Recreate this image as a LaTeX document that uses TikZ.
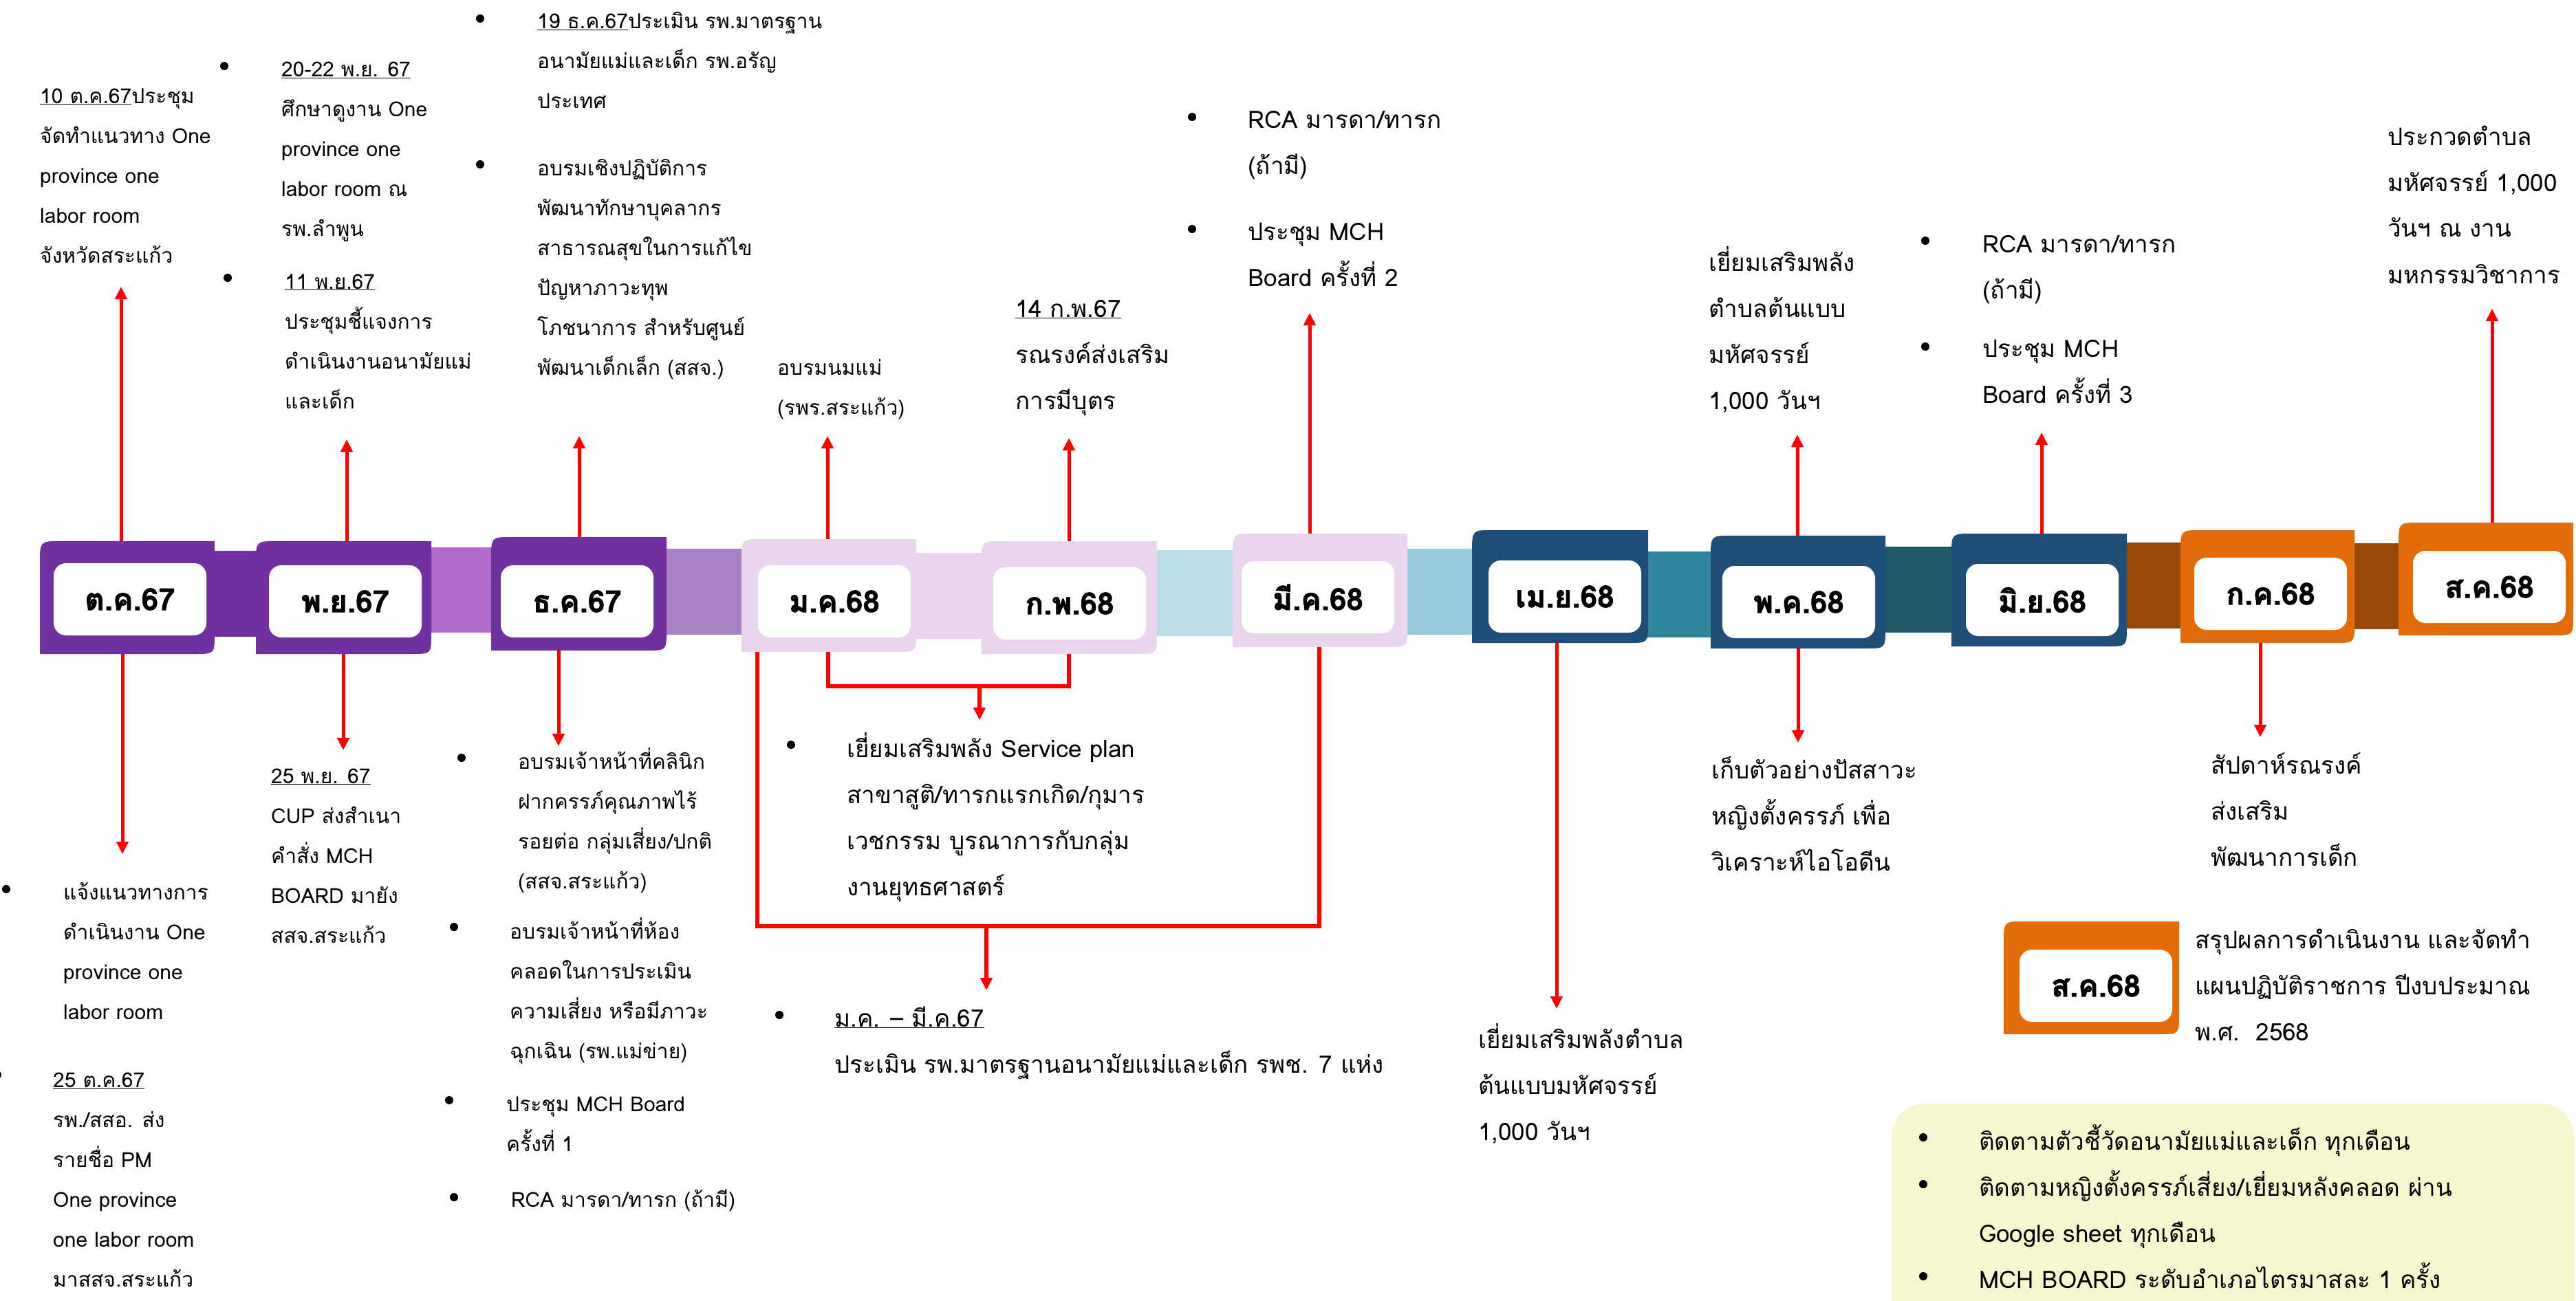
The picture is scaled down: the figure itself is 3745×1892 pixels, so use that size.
\documentclass[tikz,border=0pt]{standalone}
\usepackage{fontspec}
\setmainfont{Loma}[Script=Thai]
\newfontfamily\MonthFam{Loma}[Script=Thai, BoldFeatures={FakeBold=2}]
\usetikzlibrary{arrows.meta}
\definecolor{cPurple}{HTML}{7030A0}
\definecolor{cPink}{HTML}{EAD5EE}
\definecolor{cNavy}{HTML}{1F4E79}
\definecolor{cOrange}{HTML}{E36C0A}
\definecolor{bandA}{HTML}{7030A0}
\definecolor{bandB}{HTML}{B06CCC}
\definecolor{bandC}{HTML}{A882C3}
\definecolor{bandD}{HTML}{EAD5EE}
\definecolor{bandE}{HTML}{B9DEE8}
\definecolor{bandF}{HTML}{96CCDC}
\definecolor{bandG}{HTML}{31859C}
\definecolor{bandH}{HTML}{215968}
\definecolor{bandI}{HTML}{984807}
\definecolor{noteYellow}{HTML}{F7F7CF}
\newcommand{\SzS}{\fontsize{30}{58}\selectfont}
\newcommand{\SzL}{\fontsize{35}{67}\selectfont}
\newcommand{\MonthFont}{\MonthFam\fontsize{44}{52}\selectfont\bfseries}
\tikzset{
  arr/.style={draw=red, line width=5pt, -{Triangle[length=18pt,width=17pt]}},
  brk/.style={draw=red, line width=6.5pt, line join=miter},
  mframe/.style={inner sep=0pt, draw=none},
  monthlabel/.style={fill=white, rounded corners=18pt, minimum width=222pt, minimum height=105pt, inner sep=0pt, font=\MonthFont},
  txtS/.style={anchor=base west, inner sep=0pt, font=\SzS, text=black},
  txtL/.style={anchor=base west, inner sep=0pt, font=\SzL, text=black}
}
% #1 name, #2 x1, #3 y1, #4 x2, #5 y2, #6 colour, #7 inner x1, #8 inner y1, #9 label
\newcommand{\MonthBox}[9]{%
  \fill[#6] (#2,#5) -- (#2,#3+32) .. controls (#2,#3) .. (#2+30,#3) -- (#4,#3) -- (#4,#5-30) .. controls (#4,#5) .. (#4-28,#5) -- cycle;
  \node[mframe, minimum width={#4-#2}, minimum height={#5-#3}] (#1) at ({(#2+#4)/2},{(#3+#5)/2}) {};
  \node[monthlabel] (#1-in) at ({#7+111},{#8+52.5}) {#9};
}
\newcommand{\TBlock}[5]{\node[#1] (#2) at (#3,#4) {\begin{tabular}[t]{@{}l@{}}#5\end{tabular}};}
\newcommand{\Bul}[2]{\fill[black] (#1,#2) circle[radius=6pt];}
\begin{document}
\begin{tikzpicture}[x=1pt,y=-1pt]
\useasboundingbox (0,0) rectangle (3745,1892);
\clip (0,0) rectangle (3745,1892);
\fill[white] (0,0) rectangle (3745,1892);

% timeline bands
\fill[bandA] (300,801) rectangle (385,926);
\fill[bandB] (620,796) rectangle (720,920);
\fill[bandC] (960,798) rectangle (1085,923);
\fill[bandD] (1320,804) rectangle (1435,929);
\fill[bandE] (1675,800) rectangle (1800,925);
\fill[bandF] (2040,798) rectangle (2145,923);
\fill[bandG] (2390,802) rectangle (2495,927);
\fill[bandH] (2735,795) rectangle (2845,920);
\fill[bandI] (3085,789) rectangle (3175,914);
\fill[bandI] (3415,790) rectangle (3495,915);

% month boxes
\MonthBox{oct}{58}{787}{312}{951}{cPurple}{78}{819}{ต.ค.67}
\MonthBox{nov}{372}{787}{627}{951}{cPurple}{391}{822}{พ.ย.67}
\MonthBox{dec}{714}{781}{969}{946}{cPurple}{728}{822}{ธ.ค.67}
\MonthBox{jan}{1078}{784}{1332}{948}{cPink}{1102}{822}{ม.ค.68}
\MonthBox{feb}{1427}{787}{1682}{951}{cPink}{1444}{825}{ก.พ.68}
\MonthBox{mar}{1792}{776}{2046}{941}{cPink}{1805}{816}{มี.ค.68}
\MonthBox{apr}{2140}{771}{2396}{935}{cNavy}{2164}{815}{เม.ย.68}
\MonthBox{may}{2487}{779}{2741}{943}{cNavy}{2504}{823}{พ.ค.68}
\MonthBox{jun}{2837}{776}{3092}{940}{cNavy}{2858}{820}{มิ.ย.68}
\MonthBox{jul}{3170}{771}{3423}{935}{cOrange}{3190}{811}{ก.ค.68}
\MonthBox{aug}{3487}{760}{3741}{924}{cOrange}{3508}{801}{ส.ค.68}
\MonthBox{augs}{2913}{1340}{3168}{1504}{cOrange}{2936}{1381}{ส.ค.68}

% yellow note box
\fill[noteYellow, rounded corners=48pt] (2750,1605) rectangle (3742,1980);

% arrow tip coordinates
\coordinate (tOctU) at (176,417);
\coordinate (tNovU) at (504,639);
\coordinate (tDecU) at (842,634);
\coordinate (tJanU) at (1203,634);
\coordinate (tFebU) at (1554,637);
\coordinate (tMarU) at (1904,455);
\coordinate (tMayU) at (2613,632);
\coordinate (tJunU) at (2968,629);
\coordinate (tAugU) at (3623,449);
\coordinate (tOctD) at (178,1242);
\coordinate (tNovD) at (499,1091);
\coordinate (tDecD) at (812,1085);
\coordinate (tAprD) at (2263,1467);
\coordinate (tMayD) at (2614,1080);
\coordinate (tJulD) at (3286,1072);

\draw[arr] (oct.north -| tOctU) -- (tOctU);
\draw[arr] (nov.north -| tNovU) -- (tNovU);
\draw[arr] (dec.north -| tDecU) -- (tDecU);
\draw[arr] (jan.north -| tJanU) -- (tJanU);
\draw[arr] (feb.north -| tFebU) -- (tFebU);
\draw[arr] (mar.north -| tMarU) -- (tMarU);
\draw[arr] (may.north -| tMayU) -- (tMayU);
\draw[arr] (jun.north -| tJunU) -- (tJunU);
\draw[arr] (aug.north -| tAugU) -- (tAugU);
\draw[arr] (oct.south -| tOctD) -- (tOctD);
\draw[arr] (nov.south -| tNovD) -- (tNovD);
\draw[arr] (dec.south -| tDecD) -- (tDecD);
\draw[arr] (apr.south -| tAprD) -- (tAprD);
\draw[arr] (may.south -| tMayD) -- (tMayD);
\draw[arr] (jul.south -| tJulD) -- (tJulD);

% brackets
\coordinate (cJanI) at (1204,998);
\coordinate (cFebI) at (1554,998);
\coordinate (cMidI) at (1424,998);
\coordinate (tMidI) at (1424,1047);
\draw[brk] (jan.south -| cJanI) -- (cJanI) -- (cFebI) -- (feb.south -| cFebI);
\draw[arr, line width=6pt] (cMidI) -- (tMidI);
\coordinate (cJanO) at (1101,1347);
\coordinate (cMarO) at (1918,1347);
\coordinate (cMidO) at (1434,1347);
\coordinate (tMidO) at (1434,1440);
\draw[brk] (jan.south -| cJanO) -- (cJanO) -- (cMarO) -- (mar.south -| cMarO);
\draw[arr, line width=6.5pt] (cMidO) -- (tMidO);

% bullets
\Bul{326}{96}\Bul{331}{404}\Bul{698}{27}\Bul{698}{239}
\Bul{9}{1293}\Bul{-4}{1563}\Bul{671}{1102}\Bul{660}{1348}\Bul{653}{1600}\Bul{660}{1741}
\Bul{1733}{170}\Bul{1733}{333}\Bul{2799}{350}\Bul{2799}{504}
\Bul{1150}{1083}\Bul{1133}{1476}
\Bul{2796}{1654}\Bul{2796}{1722}\Bul{2796}{1856}

% texts, small
\TBlock{txtS}{a1}{58}{150}{\underline{10 ต.ค.67}ประชุม\\จัดทำแนวทาง One\\province one\\labor room\\จังหวัดสระแก้ว}
\TBlock{txtS}{a2}{409}{112}{\underline{20-22 พ.ย. 67}\\ศึกษาดูงาน One\\province one\\labor room ณ\\รพ.ลำพูน}
\TBlock{txtS}{a3}{414}{420}{\underline{11 พ.ย.67}\\ประชุมชี้แจงการ\\ดำเนินงานอนามัยแม่\\และเด็ก}
\TBlock{txtS}{a4}{781}{42}{\underline{19 ธ.ค.67}ประเมิน รพ.มาตรฐาน\\อนามัยแม่และเด็ก รพ.อรัญ\\ประเทศ}
\TBlock{txtS}{a5}{781}{255}{อบรมเชิงปฏิบัติการ\\พัฒนาทักษาบุคลากร\\สาธารณสุขในการแก้ไข\\ปัญหาภาวะทุพ\\โภชนาการ สำหรับศูนย์\\พัฒนาเด็กเล็ก (สสจ.)}
\TBlock{txtS}{a6}{1130}{545}{อบรมนมแม่\\(รพร.สระแก้ว)}
\TBlock{txtS}{b1}{92}{1308}{แจ้งแนวทางการ\\ดำเนินงาน One\\province one\\labor room}
\TBlock{txtS}{b2}{77}{1581}{\underline{25 ต.ค.67}\\รพ./สสอ. ส่ง\\รายชื่อ PM\\One province\\one labor room\\มาสสจ.สระแก้ว}
\TBlock{txtS}{b3}{394}{1139}{\underline{25 พ.ย. 67}\\CUP ส่งสำเนา\\คำสั่ง MCH\\BOARD มายัง\\สสจ.สระแก้ว}
\TBlock{txtS}{b4}{753}{1118}{อบรมเจ้าหน้าที่คลินิก\\ฝากครรภ์คุณภาพไร้\\รอยต่อ กลุ่มเสี่ยง/ปกติ\\(สสจ.สระแก้ว)}
\TBlock{txtS}{b5}{741}{1365}{อบรมเจ้าหน้าที่ห้อง\\คลอดในการประเมิน\\ความเสี่ยง หรือมีภาวะ\\ฉุกเฉิน (รพ.แม่ข่าย)}
\TBlock{txtS}{b6}{736}{1616}{ประชุม MCH Board\\ครั้งที่ 1}
\TBlock{txtS}{b7}{743}{1755}{RCA มารดา/ทารก (ถ้ามี)}

% texts, large
\TBlock{txtL}{c1}{1476}{461}{\underline{14 ก.พ.67}\\รณรงค์ส่งเสริม\\การมีบุตร}
\TBlock{txtL}{c2}{1814}{186}{RCA มารดา/ทารก\\(ถ้ามี)}
\TBlock{txtL}{c3}{1814}{349}{ประชุม MCH\\Board ครั้งที่ 2}
\TBlock{txtL}{c4}{2484}{394}{เยี่ยมเสริมพลัง\\ตำบลต้นแบบ\\มหัศจรรย์\\1,000 วันฯ}
\TBlock{txtL}{c5}{2882}{367}{RCA มารดา/ทารก\\(ถ้ามี)}
\TBlock{txtL}{c6}{2882}{519}{ประชุม MCH\\Board ครั้งที่ 3}
\TBlock{txtL}{c7}{3471}{211}{ประกวดตำบล\\มหัศจรรย์ 1,000\\วันฯ ณ งาน\\มหกรรมวิชาการ}
\TBlock{txtL}{d1}{1231}{1101}{เยี่ยมเสริมพลัง Service plan\\สาขาสูติ/ทารกแรกเกิด/กุมาร\\เวชกรรม บูรณาการกับกลุ่ม\\งานยุทธศาสตร์}
\TBlock{txtL}{d2}{1213}{1493}{\underline{ม.ค. – มี.ค.67}\\ประเมิน รพ.มาตรฐานอนามัยแม่และเด็ก รพช. 7 แห่ง}
\TBlock{txtL}{d3}{2149}{1524}{เยี่ยมเสริมพลังตำบล\\ต้นแบบมหัศจรรย์\\1,000 วันฯ}
\TBlock{txtL}{d4}{2488}{1132}{เก็บตัวอย่างปัสสาวะ\\หญิงตั้งครรภ์ เพื่อ\\วิเคราะห์ไอโอดีน}
\TBlock{txtL}{d5}{3214}{1125}{สัปดาห์รณรงค์\\ส่งเสริม\\พัฒนาการเด็ก}
\TBlock{txtL}{d6}{3191}{1379}{สรุปผลการดำเนินงาน และจัดทำ\\แผนปฏิบัติราชการ ปีงบประมาณ\\พ.ศ.~~2568}
\TBlock{txtL}{e1}{2877}{1672}{ติดตามตัวชี้วัดอนามัยแม่และเด็ก ทุกเดือน\\ติดตามหญิงตั้งครรภ์เสี่ยง/เยี่ยมหลังคลอด ผ่าน\\Google sheet ทุกเดือน\\MCH BOARD ระดับอำเภอไตรมาสละ 1 ครั้ง}
\end{tikzpicture}
\end{document}
